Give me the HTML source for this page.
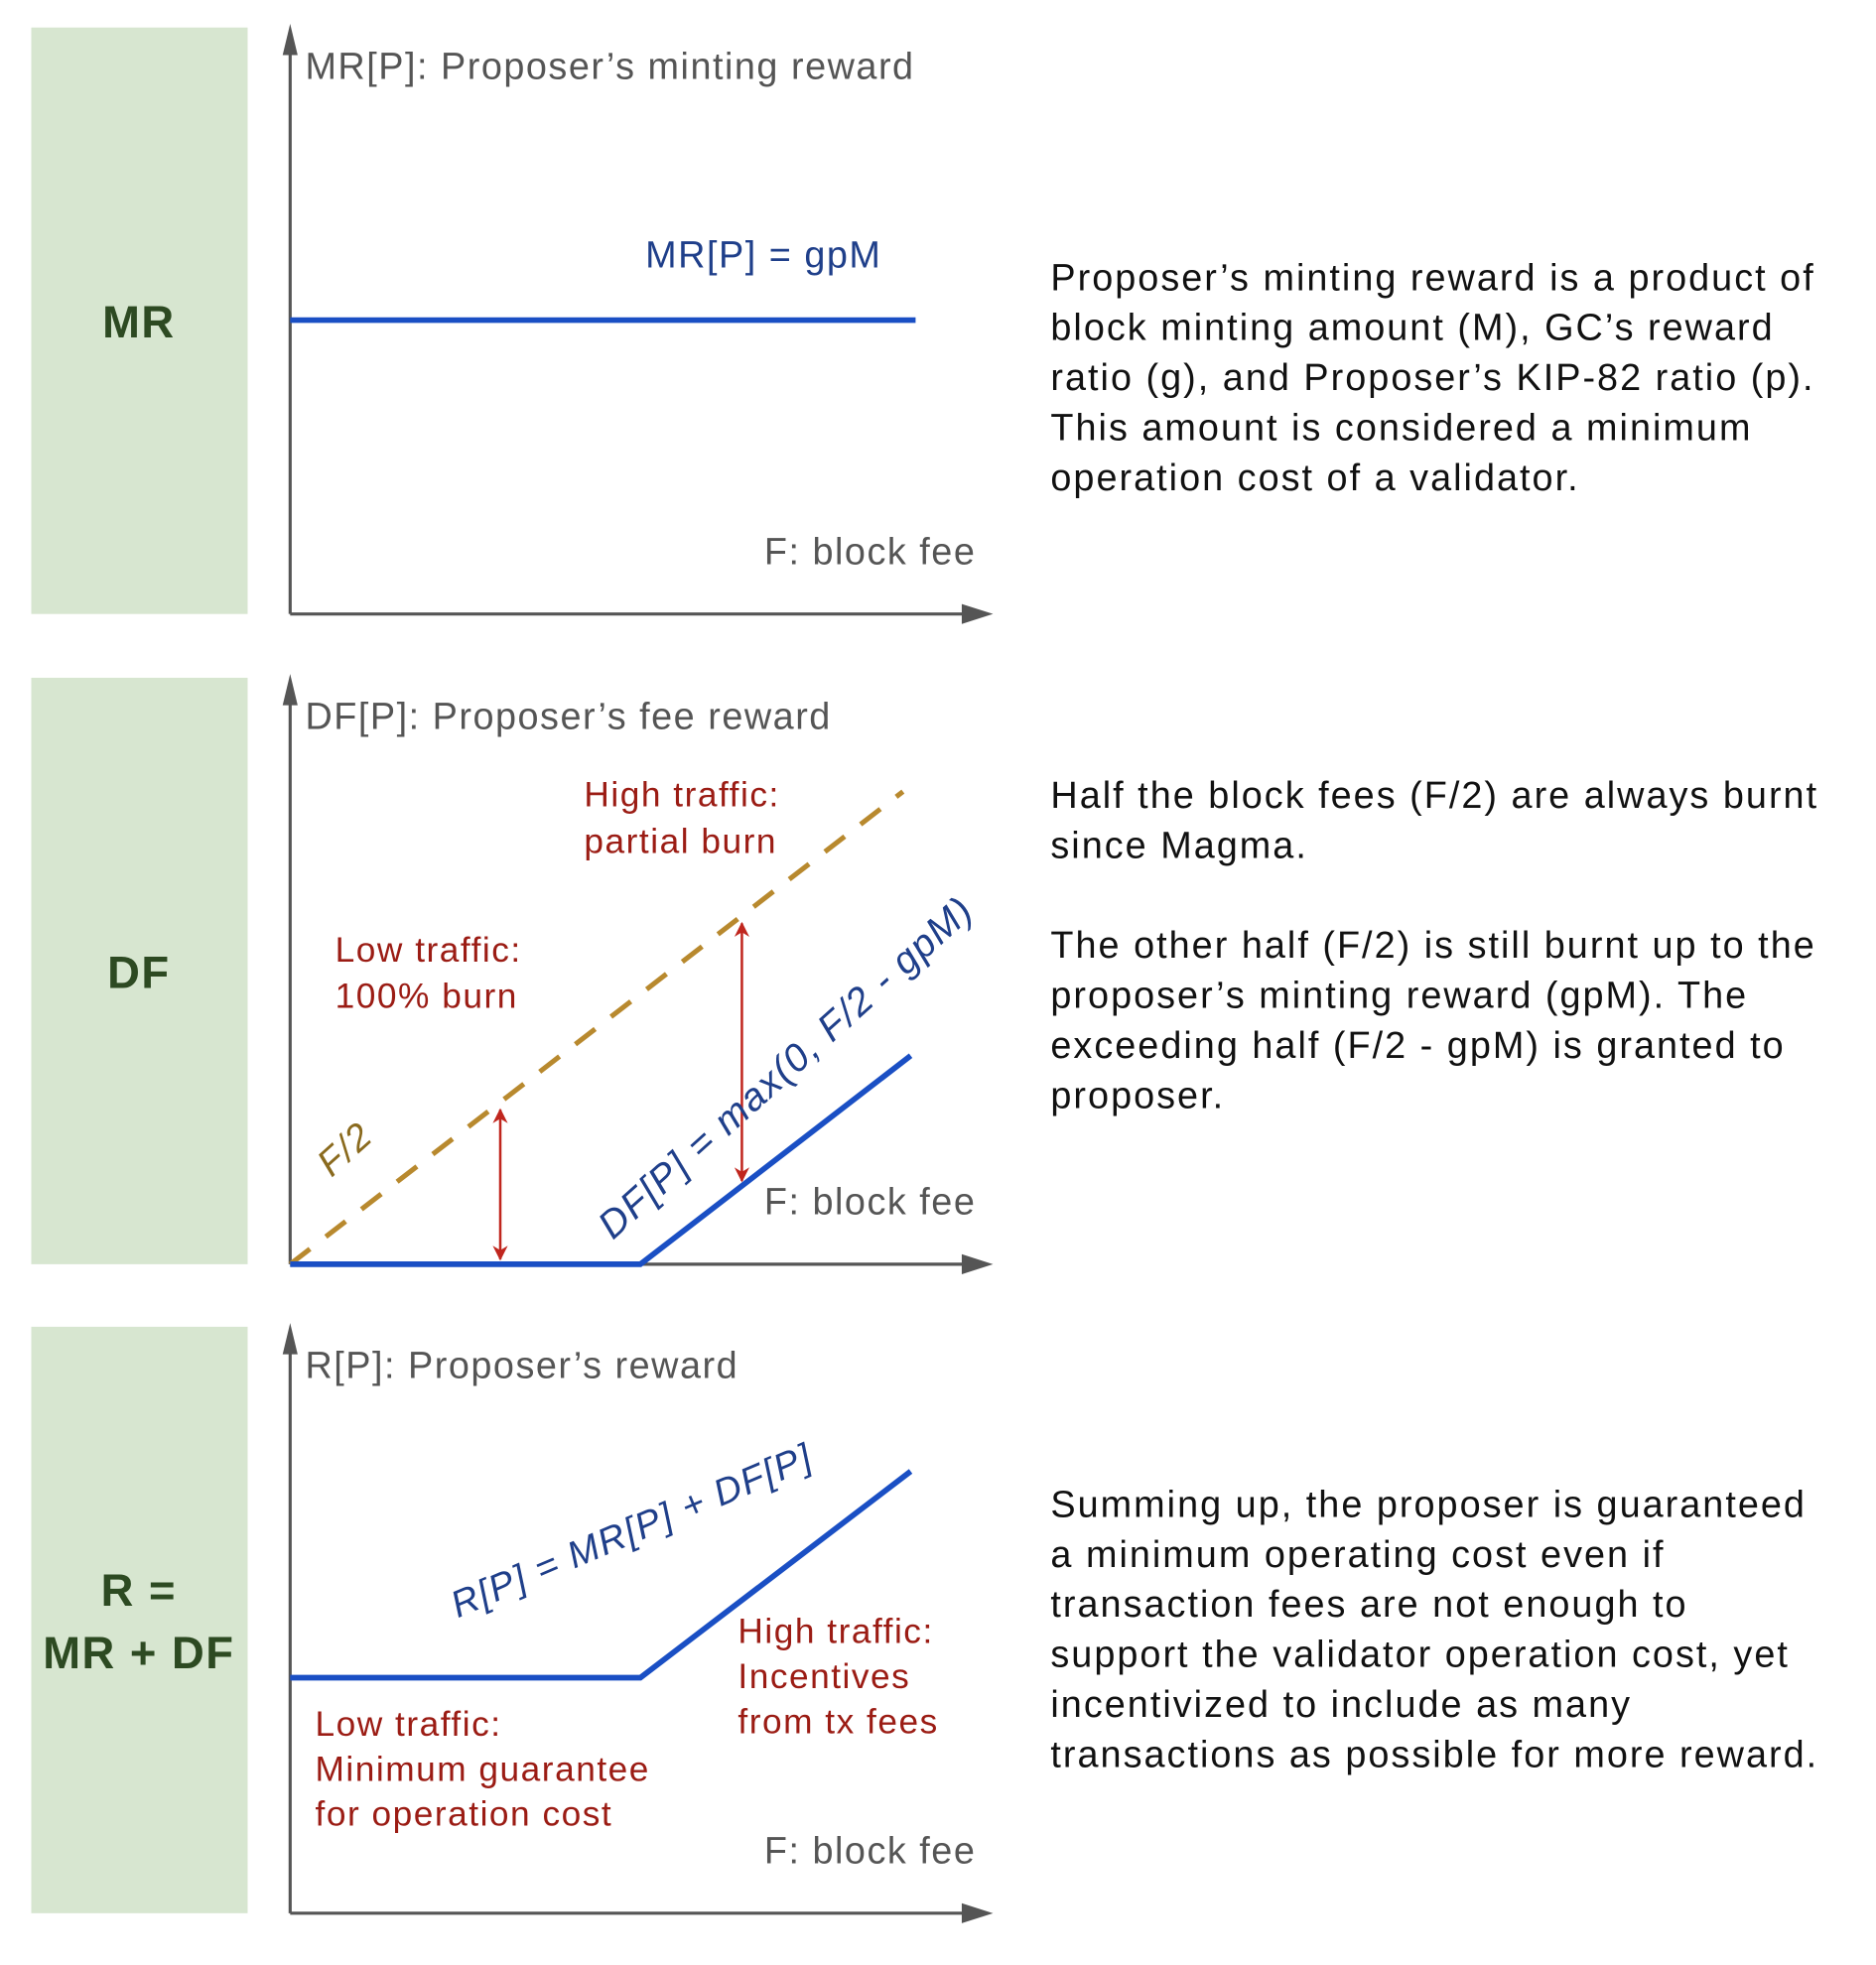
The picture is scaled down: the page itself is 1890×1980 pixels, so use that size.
<!DOCTYPE html>
<html><head><meta charset="utf-8"><style>
html,body{margin:0;padding:0;background:#fff}
svg{display:block}
text{font-family:"Liberation Sans",sans-serif;letter-spacing:1.2px}
</style></head><body>
<svg id="fig" width="1890" height="1980" viewBox="0 0 1500 1571.4" xmlns="http://www.w3.org/2000/svg">
<defs>
<marker id="redhead" viewBox="0 0 10 10" refX="9" refY="5" markerWidth="7" markerHeight="6" orient="auto-start-reverse"><path d="M0,0 L10,5 L0,10 L3,5 z" fill="#c0261e"/></marker>
</defs>
<g id="root"></g>
</svg>
<script>
// data arrays
const panelOffsets = [0, 520, 1039];
const mrFee = [0, 8.93];
const mrValues = [2.72, 2.72];
const halfFee = [0, 8.75];
const halfValues = [0, 4.375];
const dfFee = [0, 5, 8.86];
const dfValues = [0, 0, 1.93];
const rFee = [0, 5, 8.86];
const rValues = [2.18, 2.18, 4.09];
const burnArrowFee = [3, 6.45];

const NS = "http://www.w3.org/2000/svg";
const root = document.getElementById('root');
function el(tag, attrs, parent){const e=document.createElementNS(NS,tag);for(const k in attrs)e.setAttribute(k,attrs[k]);(parent||root).appendChild(e);return e;}
function txt(x,y,s,size,fill,extra,parent){const t=el('text',Object.assign({x:x,y:y,'font-size':size,fill:fill},extra||{}),parent);t.textContent=s;return t;}
const xS = f => 232 + f*56;
const yS = (v, off) => 491 + off - v*86.4;

panelOffsets.forEach((off,i)=>{
  const g = el('g',{});
  
  
  const box = el('rect',{x:25,y:22+off,width:173,height:469,fill:'#d7e6d0'},g);
  
  
  const ya = el('line',{x1:232,y1:40+off,x2:232,y2:491+off,stroke:'#555',"stroke-width":2.5},g);
  
  
  el('path',{d:`M226,${44+off} L232,${19+off} L238,${44+off} z`,fill:'#555'},g);
  const xa = el('line',{x1:232,y1:491+off,x2:772,y2:491+off,stroke:'#555',"stroke-width":2.5},g);
  
  
  el('path',{d:`M769,${483+off} L794,${491+off} L769,${499+off} z`,fill:'#555'},g);
  const xt = txt(611,451+off,'F: block fee',30,'#555',{},g);
  
  
});

function poly(fs, vs, off, attrs, name){
  const pts = fs.map((f,i)=>xS(f)+','+yS(vs[i],off)).join(' ');
  const p = el('polyline',Object.assign({points:pts,fill:'none'},attrs));
  
  
  return p;
}
const blue='#1a4fc4', navy='#1f3f8a', red='#9b1c14', gray='#555', green='#2d4a22';

// Panel 1
let t;
t=txt(244,63,'MR[P]: Proposer’s minting reward',30,gray);
t=txt(516,214,'MR[P] = gpM',30,navy);
poly(mrFee,mrValues,0,{stroke:blue,'stroke-width':4.5},'mr-line');
t=txt(111,270,'MR',36,green,{'text-anchor':'middle','font-weight':'bold'});

// Panel 2
const o2=520;
t=txt(244,583,'DF[P]: Proposer’s fee reward',30,gray);
poly(halfFee,halfValues,o2,{stroke:'#b8892e','stroke-width':4,'stroke-dasharray':'20,16'},'half-fee-line');
poly(dfFee,dfValues,o2,{stroke:blue,'stroke-width':4.5},'df-line');
burnArrowFee.forEach((f,i)=>{
  const top = yS(f/2,o2)+6;
  const bot = i===0 ? yS(0,o2)-4 : yS(f/2-2.5,o2)-4;
  const a = el('line',{x1:xS(f),y1:top,x2:xS(f),y2:bot,stroke:'#c0261e','stroke-width':2,'marker-start':'url(#redhead)','marker-end':'url(#redhead)'});
  
  
});
t=txt(467,645,'High traffic:',28,red);
t=txt(467,682,'partial burn',28,red);
t=txt(268,769,'Low traffic:',28,red);
t=txt(268,806,'100% burn',28,red);
t=txt(0,0,'F/2',30,'#8a6a1e',{'font-style':'italic',transform:'translate(265,942) rotate(-42)'});
t=txt(0,0,'DF[P] = max(0, F/2 - gpM)',31,navy,{'font-style':'italic',transform:'translate(490,992) rotate(-42)'});
t=txt(111,790,'DF',36,green,{'text-anchor':'middle','font-weight':'bold'});

// Panel 3
const o3=1039;
t=txt(244,1102,'R[P]: Proposer’s reward',30,gray);
poly(rFee,rValues,o3,{stroke:blue,'stroke-width':4.5},'r-line');
t=txt(0,0,'R[P] = MR[P] + DF[P]',30,navy,{'font-style':'italic',transform:'translate(366,1294) rotate(-23)'});
[['High traffic:',590,1314],['Incentives',590,1350],['from tx fees',590,1386],['Low traffic:',252,1388],['Minimum guarantee',252,1424],['for operation cost',252,1460]].forEach((r,i)=>{
  const e=txt(r[1],r[2],r[0],28,red);
  
  
});
t=txt(111,1284,'R =',36,green,{'text-anchor':'middle','font-weight':'bold'});
t=txt(111,1334,'MR + DF',36,green,{'text-anchor':'middle','font-weight':'bold'});

// Descriptions
const desc = [
 [232,['Proposer’s minting reward is a product of','block minting amount (M), GC’s reward','ratio (g), and Proposer’s KIP-82 ratio (p).','This amount is considered a minimum','operation cost of a validator.']],
 [646,['Half the block fees (F/2) are always burnt','since Magma.','','The other half (F/2) is still burnt up to the','proposer’s minting reward (gpM). The','exceeding half (F/2 - gpM) is granted to','proposer.']],
 [1213,['Summing up, the proposer is guaranteed','a minimum operating cost even if','transaction fees are not enough to','support the validator operation cost, yet','incentivized to include as many','transactions as possible for more reward.']]
];
desc.forEach((d,i)=>{
  d[1].forEach((line,j)=>{
    if(!line) return;
    const e=txt(840,d[0]+j*40,line,30,'#111',{style:'letter-spacing:1.6px'});
    
    
  });
});
</script>
</body></html>
